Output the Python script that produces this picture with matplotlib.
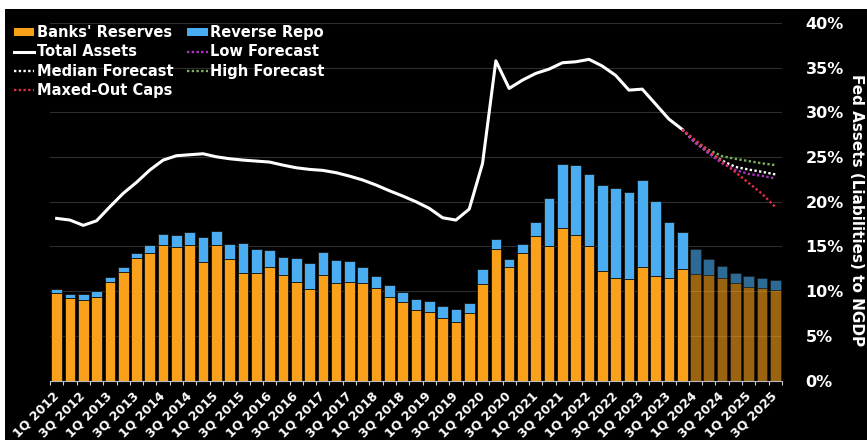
import matplotlib
matplotlib.use('Agg')
import matplotlib.pyplot as plt
import numpy as np
from matplotlib.patches import Patch, Rectangle
from matplotlib.lines import Line2D

quarters = [
    "1Q 2012", "2Q 2012", "3Q 2012", "4Q 2012", "1Q 2013", "2Q 2013", "3Q 2013", "4Q 2013",
    "1Q 2014", "2Q 2014", "3Q 2014", "4Q 2014", "1Q 2015", "2Q 2015", "3Q 2015", "4Q 2015",
    "1Q 2016", "2Q 2016", "3Q 2016", "4Q 2016", "1Q 2017", "2Q 2017", "3Q 2017", "4Q 2017",
    "1Q 2018", "2Q 2018", "3Q 2018", "4Q 2018", "1Q 2019", "2Q 2019", "3Q 2019", "4Q 2019",
    "1Q 2020", "2Q 2020", "3Q 2020", "4Q 2020", "1Q 2021", "2Q 2021", "3Q 2021", "4Q 2021",
    "1Q 2022", "2Q 2022", "3Q 2022", "4Q 2022", "1Q 2023", "2Q 2023", "3Q 2023", "4Q 2023",
    "1Q 2024", "2Q 2024", "3Q 2024", "4Q 2024", "1Q 2025", "2Q 2025", "3Q 2025",
]

reserves = [
    9.75, 9.23, 9.04, 9.31, 10.98, 12.10, 13.67, 14.23, 15.16, 14.97,
    15.16, 13.22, 15.16, 13.62, 11.99, 11.99, 12.66, 11.80, 11.05, 10.20,
    11.76, 10.87, 11.02, 10.87, 10.38, 9.38, 8.81, 7.89, 7.70, 7.03,
    6.58, 7.51, 10.76, 14.68, 12.66, 14.23, 16.16, 15.04, 17.09, 16.28,
    15.08, 12.25, 11.50, 11.32, 12.66, 11.69, 11.50, 12.44, 11.91, 11.76,
    11.47, 10.87, 10.50, 10.31, 10.12,
]

reverse_repo = [
    0.48, 0.45, 0.60, 0.67, 0.60, 0.56, 0.59, 0.93, 1.19, 1.27,
    1.45, 2.83, 1.53, 1.61, 3.42, 2.72, 1.97, 2.05, 2.71, 2.90,
    2.64, 2.61, 2.31, 1.86, 1.28, 1.27, 1.12, 1.26, 1.16, 1.30,
    1.38, 1.16, 1.75, 1.18, 0.93, 1.00, 1.60, 5.37, 7.16, 7.79,
    8.05, 9.62, 10.00, 9.80, 9.77, 8.35, 6.26, 4.14, 2.77, 1.86,
    1.34, 1.15, 1.23, 1.16, 1.08,
]

total_assets = [
    18.14, 17.95, 17.36, 17.87, 19.44, 20.94, 22.17, 23.55, 24.66, 25.15,
    25.26, 25.37, 25.03, 24.81, 24.66, 24.55, 24.44, 24.10, 23.80, 23.62,
    23.51, 23.25, 22.87, 22.43, 21.87, 21.23, 20.64, 20.00, 19.26, 18.21,
    17.95, 19.18, 24.29, 35.77, 32.68, 33.61, 34.36, 34.84, 35.55, 35.66,
    35.93, 35.18, 34.14, 32.49, 32.60, 30.93, 29.25, 28.10,
]

forecast_quarters = ["4Q 2023", "1Q 2024", "2Q 2024", "3Q 2024", "4Q 2024",
                     "1Q 2025", "2Q 2025", "3Q 2025"]
low_forecast = [28.10, 26.60, 25.40, 24.30, 23.55, 23.10, 22.90, 22.60]
median_forecast = [28.10, 26.60, 25.50, 24.60, 23.90, 23.60, 23.35, 23.06]
high_forecast = [28.10, 26.70, 25.80, 25.10, 24.80, 24.55, 24.30, 24.10]
maxed_out_caps = [28.10, 26.90, 25.70, 24.50, 23.30, 22.10, 20.90, 19.40]

y_ticks = [0, 5, 10, 15, 20, 25, 30, 35, 40]
y_tick_labels = ["0%", "5%", "10%", "15%", "20%", "25%", "30%", "35%", "40%"]

ORANGE = '#F9A11B'
BLUE = '#4AADF2'
GREEN = '#7DB35E'
MAGENTA = '#B12FC4'
RED = '#E02D45'
TXT = dict(color='white', fontweight='bold')

W, H = 867, 440
fig = plt.figure(figsize=(W / 100, H / 100), dpi=100, facecolor='white')
fig.patches.append(Rectangle((5 / W, 0), 1, 1 - 9 / H, transform=fig.transFigure,
                             facecolor='black', edgecolor='none', zorder=-5))
ax = fig.add_axes([50 / W, 59.5 / H, 732 / W, 357.5 / H])
ax.set_zorder(2)
ax.set_facecolor('black')

pos = {q: i for i, q in enumerate(quarters)}
x = np.arange(len(quarters))
n_act = pos["4Q 2023"] + 1
res = np.array(reserves)
rr = np.array(reverse_repo)

bw = 0.8
ekw = dict(edgecolor='#1a1208', linewidth=0.6)
ax.bar(x[:n_act], res[:n_act], width=bw, color=ORANGE, zorder=2, **ekw)
ax.bar(x[:n_act], rr[:n_act], bottom=res[:n_act], width=bw, color=BLUE, zorder=2, **ekw)
ax.bar(x[n_act:], res[n_act:], width=bw, color=ORANGE, alpha=0.62, zorder=2, **ekw)
ax.bar(x[n_act:], rr[n_act:], bottom=res[n_act:], width=bw, color=BLUE, alpha=0.62, zorder=2, **ekw)

ax.plot(x[:len(total_assets)], total_assets, color='white', lw=2.2, zorder=4,
        solid_joinstyle='round')
fx = [pos[q] for q in forecast_quarters]
dot = (0, (1, 1))
ax.plot(fx, high_forecast, color=GREEN, lw=1.7, ls=dot, zorder=5)
ax.plot(fx, median_forecast, color='white', lw=1.7, ls=dot, zorder=5)
ax.plot(fx, low_forecast, color=MAGENTA, lw=1.7, ls=dot, zorder=5)
ax.plot(fx, maxed_out_caps, color=RED, lw=1.7, ls=dot, zorder=5)

ax.set_xlim(-0.5, len(quarters) - 0.5)
ax.set_ylim(0, 40)

ax.yaxis.grid(True, color='#2e2e2e', lw=0.8)
ax.set_axisbelow(True)

for s in ['top', 'left', 'right']:
    ax.spines[s].set_visible(False)
ax.spines['bottom'].set_color('#bbbbbb')
ax.spines['bottom'].set_linewidth(0.8)

ax.set_xticks(x[::2])
ax.set_xticklabels(quarters[::2], rotation=45, ha='right', va='center',
                   rotation_mode='anchor', fontsize=9, **TXT)
ax.set_xticks(np.arange(-0.5, len(quarters)), minor=True)
ax.tick_params(axis='x', which='major', length=0, pad=10)
ax.tick_params(axis='x', which='minor', length=3, color='#cccccc', width=0.8)

ax.yaxis.tick_right()
ax.set_yticks(y_ticks)
ax.set_yticklabels(y_tick_labels, fontsize=11.5, ha='left', **TXT)
ax.tick_params(axis='y', length=0, pad=17)

fig.text(857 / W, 1 - 210 / H, "Fed Assets (Liabilities) to NGDP", rotation=270,
         ha='center', va='center', fontsize=11, **TXT)

handles = [
    Patch(facecolor=ORANGE, edgecolor='none'),
    Line2D([], [], color='white', lw=2.2),
    Line2D([], [], color='white', lw=1.7, ls=dot),
    Line2D([], [], color=RED, lw=1.7, ls=dot),
    Patch(facecolor=BLUE, edgecolor='none'),
    Line2D([], [], color=MAGENTA, lw=1.7, ls=dot),
    Line2D([], [], color=GREEN, lw=1.7, ls=dot),
]
labels = ["Banks' Reserves", "Total Assets", "Median Forecast", "Maxed-Out Caps",
          "Reverse Repo", "Low Forecast", "High Forecast"]
leg = fig.legend(handles, labels, loc='upper left', bbox_to_anchor=(14 / W, 1 - 25 / H),
                 ncol=2, frameon=False, fontsize=10.5, handlelength=1.4,
                 handleheight=0.5, handletextpad=0.2, columnspacing=0.9,
                 labelspacing=0.3, borderaxespad=0, borderpad=0)
leg.set_zorder(10)
for t in leg.get_texts():
    t.set_color('white')
    t.set_fontweight('bold')

fig.savefig('out.png', dpi=100, facecolor=fig.get_facecolor())
